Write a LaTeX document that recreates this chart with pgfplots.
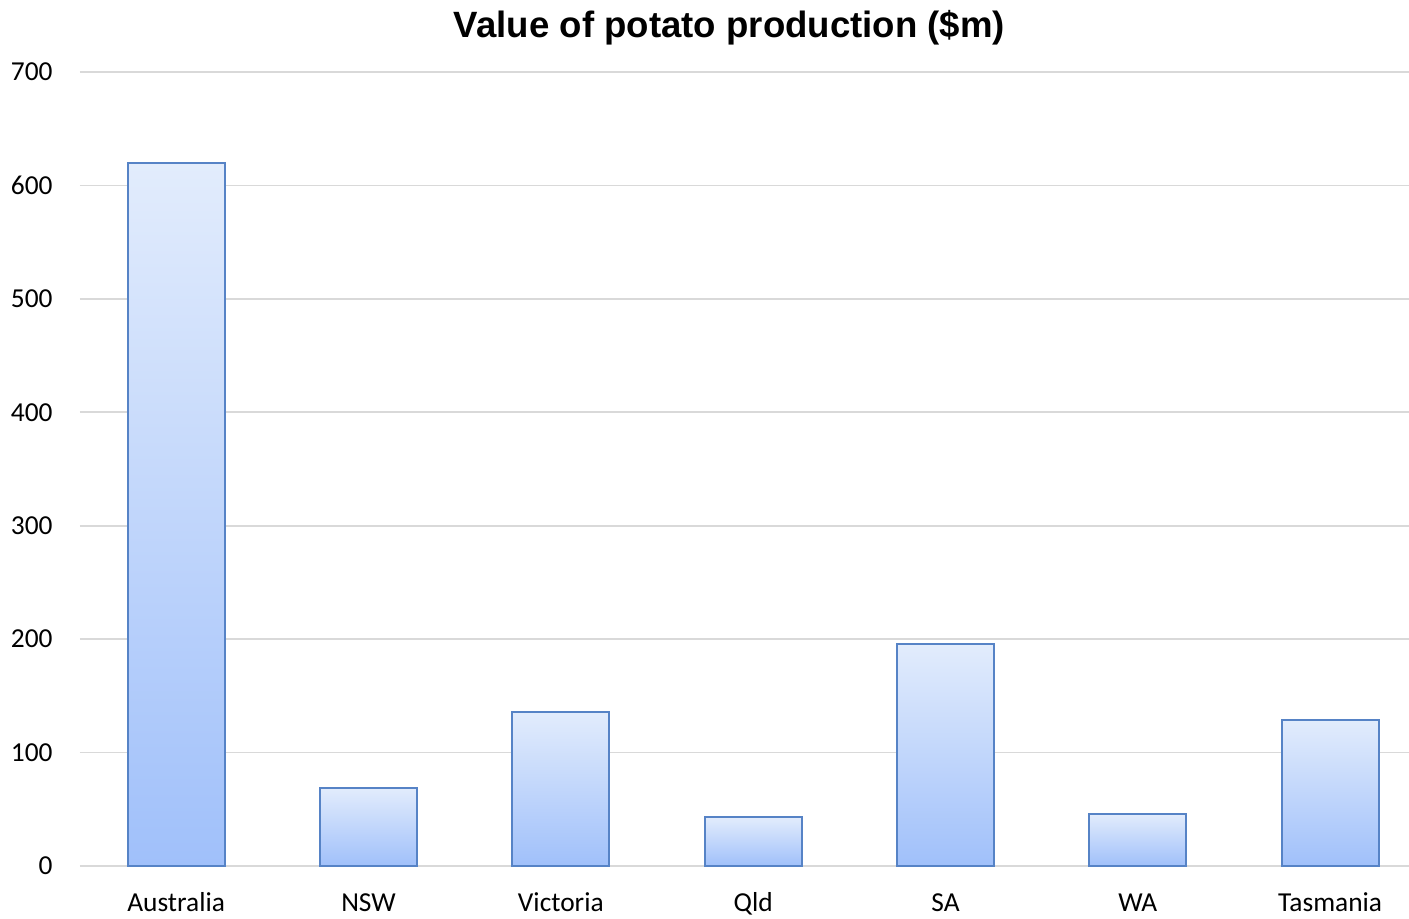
\documentclass[border=0pt]{standalone}
\usepackage{pgfplots}
\pgfplotsset{compat=1.18}
\usepackage{fontspec}
\setmainfont{Carlito}
\newfontfamily\titlefont{Liberation Sans}
\definecolor{barTop}{HTML}{E2ECFC}
\definecolor{barBot}{HTML}{A0C0FA}
\definecolor{barEdge}{HTML}{5683C6}
\definecolor{gridc}{HTML}{D9D9D9}
\tikzset{potatobar/.style={ybar, bar shift=0pt, bar width=48.5pt, draw=barEdge, line width=0.9pt, top color=barTop, bottom color=barBot, mark=none, solid}}
\begin{document}
\begin{tikzpicture}
\begin{axis}[
  scale only axis,
  width=664.5pt, height=397pt,
  xmin=-0.5, xmax=6.41,
  ymin=0, ymax=700,
  ytick={0,100,...,700},
  xtick={0,1,2,3,4,5,6},
  xticklabels={Australia,NSW,Victoria,Qld,SA,WA,Tasmania},
  axis line style={draw=none},
  major tick length=0pt,
  ymajorgrids,
  grid style={gridc, line width=0.8pt},
  tick label style={font=\fontsize{13.7}{16}\selectfont},
  yticklabel style={anchor=east, inner sep=0pt, xshift=-13.5pt},
  xticklabel style={anchor=base, inner sep=0pt, yshift=-22.5pt},
  /pgf/number format/assume math mode=true,
  title={\titlefont\bfseries Value of potato production (\$m)},
  title style={at={(0.5,1)}, anchor=base, yshift=11.5pt, xshift=-7.5pt, font=\fontsize{18.3}{20}\selectfont, inner sep=0pt},
  clip=false,
]
\addplot[potatobar] coordinates {(0,620)};
\addplot[potatobar] coordinates {(1,69)};
\addplot[potatobar] coordinates {(2,136)};
\addplot[potatobar] coordinates {(3,43)};
\addplot[potatobar] coordinates {(4,196)};
\addplot[potatobar] coordinates {(5,46)};
\addplot[potatobar] coordinates {(6,129)};
\end{axis}
\pgfresetboundingbox
\path[use as bounding box] (-40pt,-26pt) rectangle (664.5pt,433pt);
\end{tikzpicture}
\end{document}
